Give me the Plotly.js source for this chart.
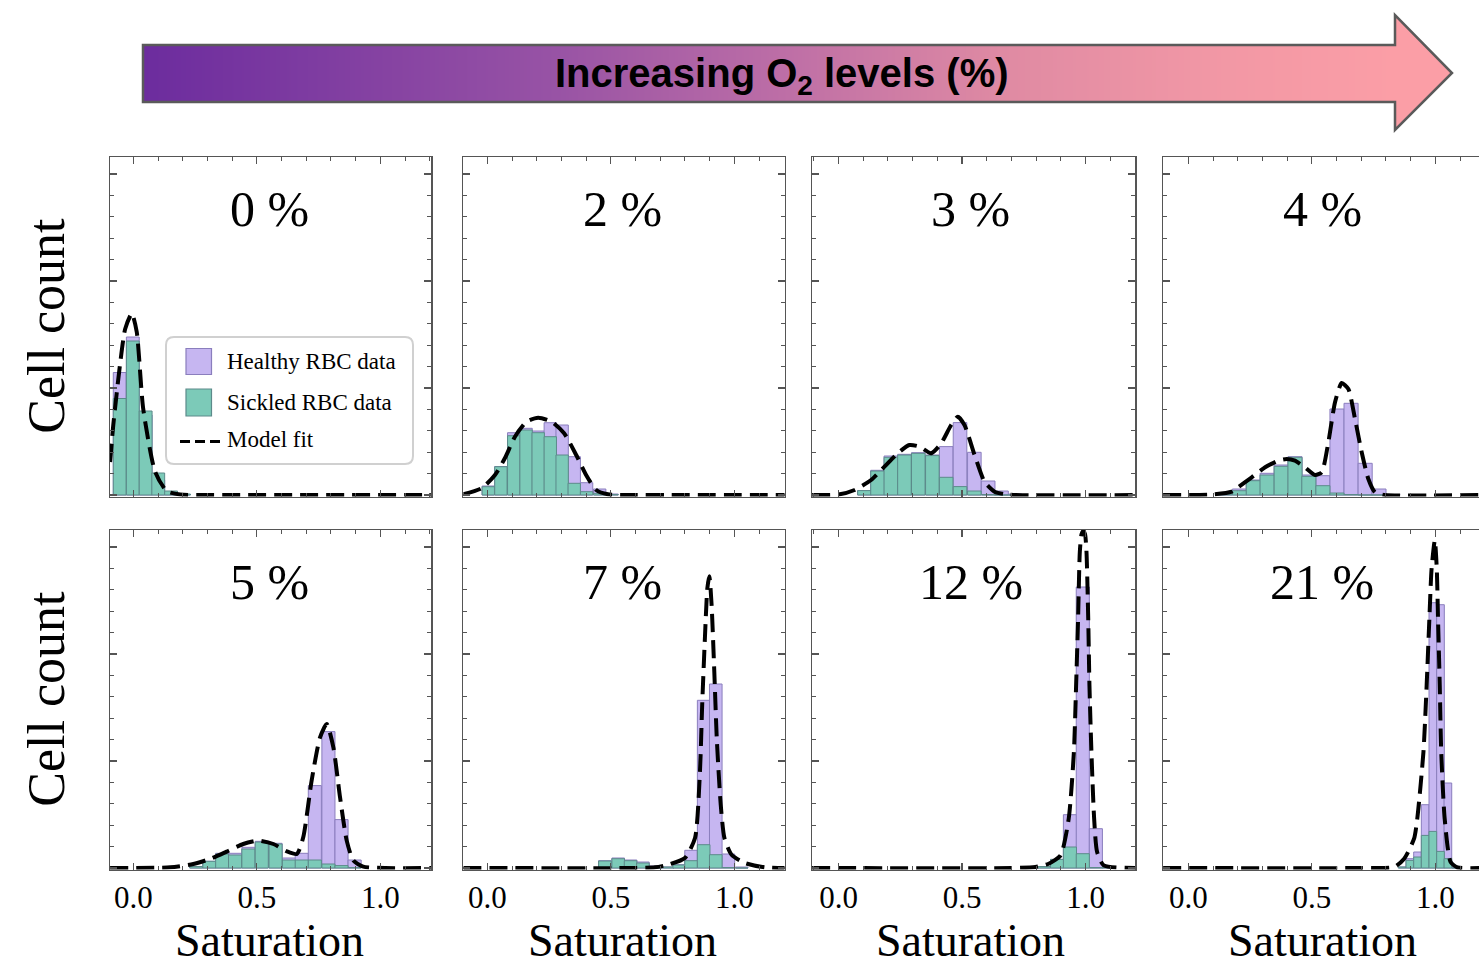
<!DOCTYPE html>
<html>
<head>
<meta charset="utf-8">
<script src="https://cdn.plot.ly/plotly-3.0.1.min.js"></script>
<style>
html,body{margin:0;padding:0;background:#ffffff;}
#chart{width:1479px;height:967px;}
</style>
</head>
<body>
<div id="chart"></div>
<script>
// ---------------- DATA ----------------
const o2Labels = ['0 %', '2 %', '3 %', '4 %', '5 %', '7 %', '12 %', '21 %'];
const xTickVals = [0, 0.5, 1.0];
const xTickText = ['0.0', '0.5', '1.0'];
const legendLabels = ['Healthy RBC data', 'Sickled RBC data', 'Model fit'];
const arrowLabel = 'Increasing O<sub>2</sub> levels (%)';
const xTitle = 'Saturation';
const yTitle = 'Cell count';

// bin width (saturation units) per panel
const binWidths = [0.052, 0.05, 0.055, 0.057, 0.053, 0.051, 0.053, 0.031];

// 0 %
const bins0 = [-0.055, -0.002, 0.05, 0.101, 0.153, 0.205];
const healthy0 = [122.5, 158, 80, 15, 2, 0.5];
const sickled0 = [96.5, 154, 84, 22, 4, 1];
const fitX0 = [-0.094, -0.081, -0.054, -0.033, -0.006, 0.014, 0.04, 0.088, 0.135, 0.19, 0.3, 1.21];
const fitY0 = [33, 70, 130, 166, 181.5, 163, 86.5, 23.5, 4, 0.5, 0, 0];
// 2 %
const bins1 = [0.004, 0.055, 0.107, 0.157, 0.206, 0.255, 0.303, 0.352, 0.402, 0.455, 0.505];
const healthy1 = [9, 28.5, 62.3, 66.7, 64, 72.3, 70, 38.3, 12.3, 6, 1];
const sickled1 = [8.3, 28.3, 59.3, 65, 62.3, 58.3, 40, 11.7, 3.3, 1.7, 0.5];
const fitX1 = [-0.097, -0.023, 0.031, 0.071, 0.112, 0.159, 0.206, 0.26, 0.311, 0.36, 0.4, 0.441, 0.488, 0.6, 1.21];
const fitY1 = [0.7, 6.7, 20, 36.7, 58.3, 73.3, 77.3, 73.3, 61.7, 40, 20, 5, 0.7, 0, 0];
// 3 %
const bins2 = [0.105, 0.158, 0.212, 0.267, 0.323, 0.38, 0.436, 0.492, 0.55, 0.606, 0.66, 0.715];
const healthy2 = [4.4, 24.7, 39, 40.7, 42.3, 40, 48.4, 72.4, 42.7, 14, 4, 1];
const sickled2 = [4.4, 24, 37.7, 40, 41.7, 39.4, 17.7, 8.4, 4, 0.5, 0, 0];
const fitX2 = [-0.107, 0.0, 0.065, 0.132, 0.186, 0.24, 0.287, 0.328, 0.375, 0.416, 0.456, 0.483, 0.51, 0.551, 0.591, 0.632, 0.684, 1.21];
const fitY2 = [0, 0.5, 5, 15, 28.3, 41.7, 50, 48.3, 41.7, 51.7, 70, 78.3, 70, 40, 13.3, 3.3, 0.5, 0];
// 4 %
const bins3 = [0.15, 0.207, 0.263, 0.319, 0.376, 0.432, 0.488, 0.545, 0.602, 0.659, 0.716, 0.772, 0.828];
const healthy3 = [1, 6, 15, 21.7, 30, 38.3, 20, 19.3, 86, 91.7, 31.7, 6, 0.5];
const sickled3 = [1, 4.3, 14.3, 20, 28.7, 37.7, 18.7, 9.3, 2, 0.5, 0, 0, 0];
const fitX3 = [-0.102, 0.1, 0.176, 0.202, 0.257, 0.311, 0.364, 0.398, 0.432, 0.472, 0.513, 0.54, 0.567, 0.594, 0.621, 0.648, 0.675, 0.702, 0.729, 0.756, 0.796, 1.18];
const fitY3 = [0, 0.5, 3.3, 7.7, 17.7, 27.7, 34.3, 36, 34.3, 27.7, 20, 22.7, 52.7, 92.7, 112, 106, 76, 42.7, 16, 2.7, 0, 0];
// 5 %
const bins4 = [0.255, 0.308, 0.36, 0.412, 0.466, 0.52, 0.576, 0.63, 0.682, 0.735, 0.79, 0.843, 0.896];
const healthy4 = [1.5, 6.7, 14.7, 14.7, 20.7, 26.7, 24.7, 10, 14.7, 82.4, 136.4, 48.4, 8];
const sickled4 = [1.5, 6.7, 14, 13, 19, 26, 24, 8, 8, 8, 4, 2.4, 0.5];
const fitX4 = [-0.094, 0.15, 0.243, 0.31, 0.378, 0.445, 0.506, 0.567, 0.621, 0.662, 0.688, 0.722, 0.756, 0.783, 0.81, 0.837, 0.864, 0.891, 0.931, 1.21];
const fitY4 = [0, 0.7, 4, 9, 16.4, 24, 27.4, 24, 16.7, 14, 30.7, 87.4, 130.7, 144, 120.7, 70.7, 27.4, 7.4, 1.4, 0];
// 7 %
const bins5 = [0.476, 0.53, 0.58, 0.63, 0.68, 0.73, 0.777, 0.825, 0.876, 0.925, 0.976, 1.03];
const healthy5 = [7.3, 10, 8, 6, 2, 1, 3.3, 17.7, 167.7, 184, 14, 1];
const sickled5 = [7, 9.3, 7.3, 5, 1.5, 1, 3, 7.3, 23.3, 13.3, 0.5, 0];
const fitX5 = [-0.097, 0.6, 0.679, 0.733, 0.8, 0.841, 0.861, 0.870, 0.881, 0.891, 0.899, 0.908, 0.919, 0.929, 0.945, 0.960, 0.989, 1.043, 1.124, 1.21];
const fitY5 = [0, 0, 0.7, 3.3, 10, 30, 96.7, 163.3, 230, 280, 291.7, 263.3, 196.7, 130, 63.3, 30, 13.3, 5, 0.7, 0];
// 12 %
const bins6 = [0.832, 0.885, 0.937, 0.989, 1.042, 1.093];
const healthy6 = [1.5, 8.6, 53.3, 281, 39.3, 1];
const sickled6 = [1.5, 8.6, 21, 14.3, 0.5, 0.5];
const fitX6 = [-0.107, 0.7, 0.797, 0.851, 0.899, 0.932, 0.953, 0.962, 0.970, 0.977, 0.984, 0.991, 0.998, 1.004, 1.011, 1.016, 1.024, 1.035, 1.047, 1.074, 1.21];
const fitY6 = [0, 0, 1, 4.3, 12.6, 49.3, 116, 182.6, 249.3, 316, 334, 337, 334, 316, 249.3, 182.6, 116, 49.3, 16, 2.6, 0];
// 21 %
const bins7 = [0.866, 0.897, 0.928, 0.959, 0.99, 1.021, 1.051, 1.082];
const healthy7 = [1, 9.3, 16, 63.3, 265.3, 263.3, 85, 1];
const sickled7 = [1, 7.6, 11, 32.6, 36.6, 16.6, 9.3, 0];
const fitX7 = [-0.102, 0.7, 0.833, 0.874, 0.914, 0.927, 0.952, 0.965, 0.976, 0.985, 0.998, 1.006, 1.011, 1.018, 1.024, 1.038, 1.062, 1.09, 1.18];
const fitY7 = [0, 0, 1, 9.3, 29.3, 49.3, 116, 182.6, 249.3, 299.3, 327.6, 299.3, 249.3, 182.6, 116, 49.3, 6, 0.5, 0];

const panelBins = [bins0, bins1, bins2, bins3, bins4, bins5, bins6, bins7];
const panelHealthy = [healthy0, healthy1, healthy2, healthy3, healthy4, healthy5, healthy6, healthy7];
const panelSickled = [sickled0, sickled1, sickled2, sickled3, sickled4, sickled5, sickled6, sickled7];
const panelFitX = [fitX0, fitX1, fitX2, fitX3, fitX4, fitX5, fitX6, fitX7];
const panelFitY = [fitY0, fitY1, fitY2, fitY3, fitY4, fitY5, fitY6, fitY7];

// ---------------- STYLE / LAYOUT ----------------
const W = 1479, H = 967;
const px = x => x / W;
const py = y => 1 - y / H;
const P = (x, y) => px(x) + ',' + py(y);

const serif = 'Liberation Serif, Times New Roman, serif';
const healthyFill = '#c6b6f1', healthyEdge = '#8a7ebd';
const sickledFill = '#7ccab8', sickledEdge = '#5c8a8a';
const frameColor = '#555555';

const colsPx = [[110, 431], [463.3, 784.5], [812, 1135], [1163, 1479]];
const zeroPx = [133.3, 487.3, 838.5, 1188.3];
const rowsPx = [[157, 496.5], [530, 869.5]];
const pxPerUnit = 247;
const labelY = [209, 582];

const traces = [];
const layout = {
  width: W, height: H,
  margin: {l: 0, r: 0, t: 0, b: 0},
  paper_bgcolor: '#ffffff', plot_bgcolor: '#ffffff',
  barmode: 'overlay', bargap: 0,
  showlegend: false,
  shapes: [], annotations: []
};

for (let i = 0; i < 8; i++) {
  const r = Math.floor(i / 4), c = i % 4;
  const n = i === 0 ? '' : String(i + 1);
  const [x0, x1] = colsPx[c];
  const [yt, yb] = rowsPx[r];
  const xa = 'x' + n, ya = 'y' + n;

  traces.push({
    type: 'bar', name: legendLabels[0], x: panelBins[i], y: panelHealthy[i], width: binWidths[i],
    marker: {color: healthyFill, line: {color: healthyEdge, width: 1}},
    xaxis: xa, yaxis: ya, hoverinfo: 'skip'
  });
  traces.push({
    type: 'bar', name: legendLabels[1], x: panelBins[i], y: panelSickled[i], width: binWidths[i],
    marker: {color: sickledFill, line: {color: sickledEdge, width: 1}},
    xaxis: xa, yaxis: ya, hoverinfo: 'skip'
  });
  traces.push({
    type: 'scatter', mode: 'lines', name: legendLabels[2], x: panelFitX[i], y: panelFitY[i],
    line: {color: '#000000', width: 4, dash: '18px,8px', shape: 'spline', smoothing: 0.6},
    xaxis: xa, yaxis: ya, hoverinfo: 'skip'
  });

  layout['xaxis' + n] = {
    domain: [px(x0), px(x1)],
    range: [(x0 - zeroPx[c]) / pxPerUnit, (x1 - zeroPx[c]) / pxPerUnit],
    anchor: ya,
    showline: true, linecolor: frameColor, linewidth: 1.5, mirror: 'ticks',
    ticks: 'inside', ticklen: 7, tickwidth: 1.2, tickcolor: frameColor,
    tickmode: 'array', tickvals: xTickVals, ticktext: xTickText,
    showticklabels: r === 1,
    tickfont: {family: serif, size: 31, color: '#000'},
    minor: {ticks: 'inside', ticklen: 4, tickwidth: 1, tickcolor: frameColor, dtick: 0.1, tick0: 0},
    showgrid: false, zeroline: false, fixedrange: true
  };
  layout['yaxis' + n] = {
    domain: [py(yb), py(yt)],
    range: [-1.5, (yb - yt) - 1.5],
    anchor: xa,
    showline: true, linecolor: frameColor, linewidth: 1.5, mirror: c === 3 ? false : 'ticks',
    ticks: 'inside', ticklen: 7, tickwidth: 1.2, tickcolor: frameColor,
    tick0: 0, dtick: 107, showticklabels: false,
    minor: {ticks: 'inside', ticklen: 4, tickwidth: 1, tickcolor: frameColor, dtick: 21.4, tick0: 0},
    showgrid: false, zeroline: false, fixedrange: true
  };

  // panel O2 label
  layout.annotations.push({
    xref: 'paper', yref: 'paper', x: px(x0 + 159), y: py(labelY[r]),
    text: o2Labels[i], showarrow: false, xanchor: 'center', yanchor: 'middle',
    font: {family: serif, size: 50, color: '#000'}
  });
  if (r === 1) {
    layout.annotations.push({
      xref: 'paper', yref: 'paper', x: px(x0 + 159), y: 0,
      text: xTitle, showarrow: false, xanchor: 'center', yanchor: 'bottom', borderpad: 0,
      font: {family: serif, size: 46, color: '#000'}
    });
  }
  if (c === 0) {
    layout.annotations.push({
      xref: 'paper', yref: 'paper', x: px(47), y: py((yt + yb) / 2 - 1),
      text: yTitle, showarrow: false, textangle: -90, xanchor: 'center', yanchor: 'middle',
      font: {family: serif, size: 52, color: '#000'}
    });
  }
}

// ---------- top gradient arrow ----------
const arrowColors = [[0, '#6c2c9e'], [0.33, '#9853a5'], [0.51, '#bd6ea6'], [0.685, '#df8aa3'], [0.85, '#f197a5'], [1, '#fb9ea6']];
traces.push({
  type: 'heatmap', z: [[0, 1], [0, 1]], x: [0, 1], y: [0, 1],
  colorscale: arrowColors, showscale: false, zsmooth: 'best', hoverinfo: 'skip',
  xaxis: 'x9', yaxis: 'y9'
});
layout.xaxis9 = {domain: [px(143), px(1395)], range: [0, 1], visible: false, fixedrange: true, anchor: 'y9'};
layout.yaxis9 = {domain: [py(102), py(45)], range: [0, 1], visible: false, fixedrange: true, anchor: 'x9'};

layout.shapes.push({
  type: 'path', xref: 'paper', yref: 'paper', layer: 'above',
  path: 'M' + P(1394, 45) + ' L' + P(1395, 15) + ' L' + P(1452, 73) + ' L' + P(1395, 130) + ' L' + P(1394, 102) + ' Z',
  fillcolor: '#fb9ea6', line: {width: 0}
});
layout.shapes.push({
  type: 'path', xref: 'paper', yref: 'paper', layer: 'above',
  path: 'M' + P(143, 45) + ' L' + P(1395, 45) + ' L' + P(1395, 15) + ' L' + P(1452, 73) + ' L' + P(1395, 130) +
        ' L' + P(1395, 102) + ' L' + P(143, 102) + ' Z',
  fillcolor: 'rgba(0,0,0,0)', line: {color: '#5a5a5a', width: 2.5}
});
layout.annotations.push({
  xref: 'paper', yref: 'paper', x: px(782), y: py(76),
  text: arrowLabel, showarrow: false, xanchor: 'center', yanchor: 'middle',
  font: {family: 'Liberation Sans, Arial, sans-serif', size: 40, color: '#000', weight: 'bold'}
});

// ---------- legend (drawn manually, panel 1) ----------
const lx0 = 166, lx1 = 413, ly0 = 337, ly1 = 464, rr = 8;
layout.shapes.push({
  type: 'path', xref: 'paper', yref: 'paper', layer: 'above',
  path: 'M' + P(lx0 + rr, ly0) + ' L' + P(lx1 - rr, ly0) + ' Q' + P(lx1, ly0) + ' ' + P(lx1, ly0 + rr) +
        ' L' + P(lx1, ly1 - rr) + ' Q' + P(lx1, ly1) + ' ' + P(lx1 - rr, ly1) +
        ' L' + P(lx0 + rr, ly1) + ' Q' + P(lx0, ly1) + ' ' + P(lx0, ly1 - rr) +
        ' L' + P(lx0, ly0 + rr) + ' Q' + P(lx0, ly0) + ' ' + P(lx0 + rr, ly0) + ' Z',
  fillcolor: 'rgba(255,255,255,0.9)', line: {color: '#d0d0d0', width: 2}
});
layout.shapes.push({
  type: 'rect', xref: 'paper', yref: 'paper', layer: 'above',
  x0: px(186), x1: px(211.5), y0: py(374.5), y1: py(348.5),
  fillcolor: healthyFill, line: {color: healthyEdge, width: 1.2}
});
layout.shapes.push({
  type: 'rect', xref: 'paper', yref: 'paper', layer: 'above',
  x0: px(186), x1: px(211.5), y0: py(416), y1: py(389),
  fillcolor: sickledFill, line: {color: sickledEdge, width: 1.2}
});
layout.shapes.push({
  type: 'line', xref: 'paper', yref: 'paper', layer: 'above',
  x0: px(180), x1: px(222), y0: py(441.5), y1: py(441.5),
  line: {color: '#000', width: 3, dash: '10px,5px'}
});
const legendTextY = [361.5, 402.5, 440];
for (let k = 0; k < 3; k++) {
  layout.annotations.push({
    xref: 'paper', yref: 'paper', x: px(225), y: py(legendTextY[k]),
    text: legendLabels[k], showarrow: false, xanchor: 'left', yanchor: 'middle',
    font: {family: serif, size: 23, color: '#000'}
  });
}

Plotly.newPlot('chart', traces, layout, {staticPlot: true, displayModeBar: false});
</script>
</body>
</html>
